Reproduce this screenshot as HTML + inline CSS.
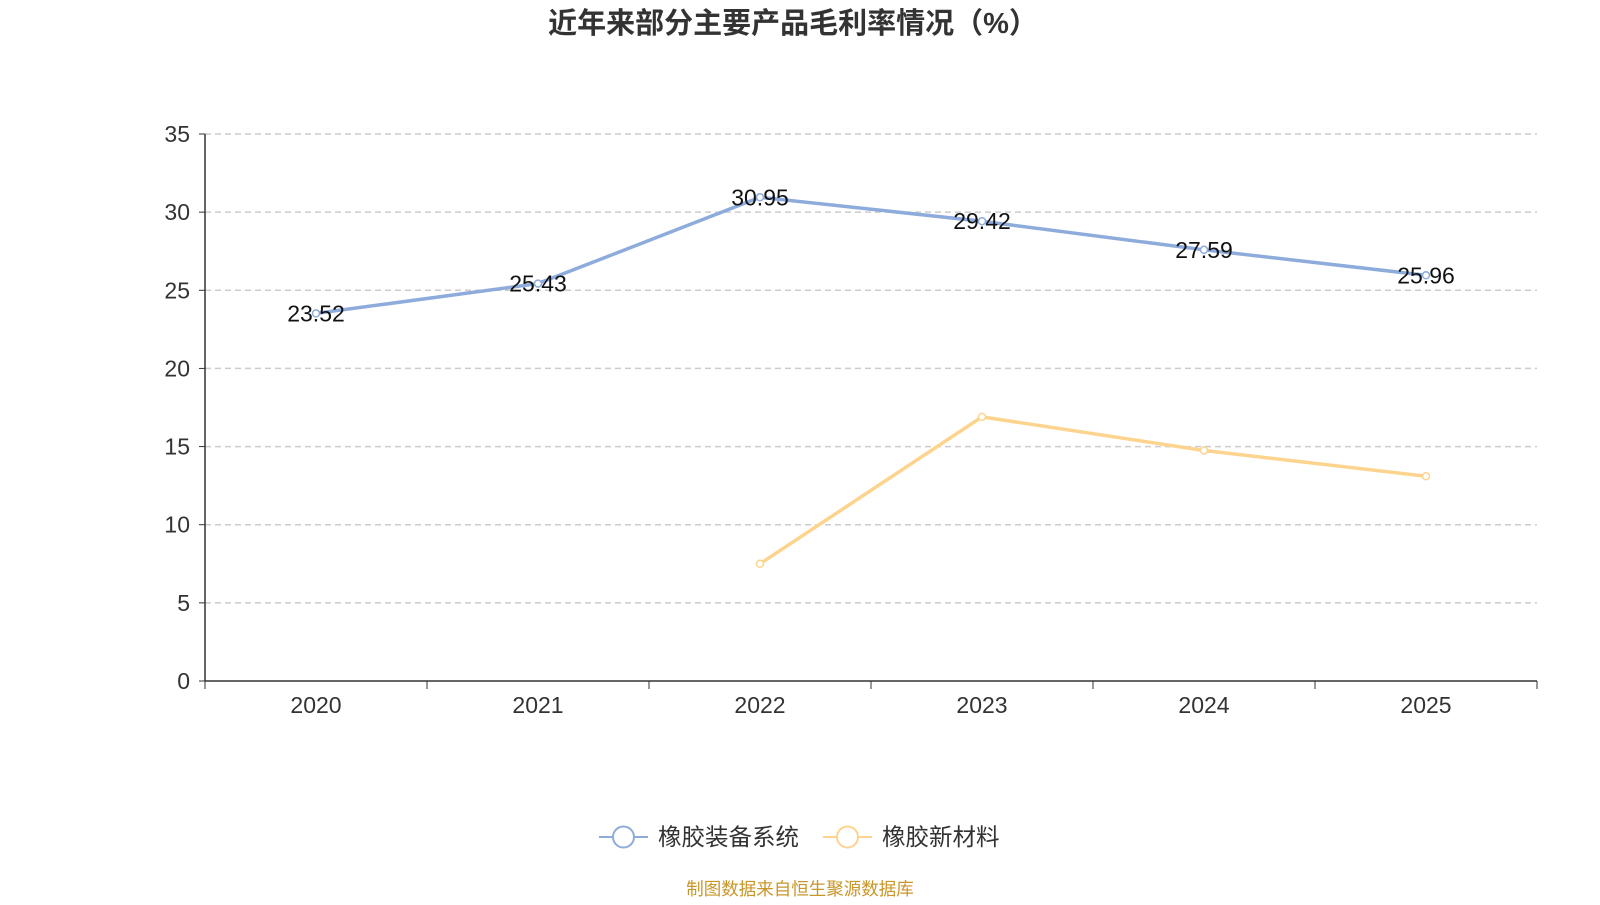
<!DOCTYPE html>
<html><head><meta charset="utf-8"><style>
body{margin:0;background:#fff;font-family:"Liberation Sans","Noto Sans CJK SC",sans-serif;}
</style></head><body>
<svg id="c" width="1600" height="900" xmlns="http://www.w3.org/2000/svg"></svg>
<script>
const categories=["2020","2021","2022","2023","2024","2025"];
const seriesA=[23.52,25.43,30.95,29.42,27.59,25.96];
const seriesB=[null,null,7.5,16.9,14.75,13.1];
const yTicks=[0,5,10,15,20,25,30,35];
const NS="http://www.w3.org/2000/svg";
const svg=document.getElementById('c');
const X0=205,X1=1537,Y0=681,Y1=134;
const bw=(X1-X0)/categories.length;
const x=i=>X0+bw*(i+0.5);
const y=v=>Y0-(v/35)*(Y0-Y1);
function el(t,a,txt){const e=document.createElementNS(NS,t);for(const k in a)e.setAttribute(k,a[k]);if(txt!==undefined)e.textContent=txt;svg.appendChild(e);return e;}
let t=el('text',{x:793,y:33,'text-anchor':'middle','font-size':29,'font-weight':'bold',fill:'#333'},'近年来部分主要产品毛利率情况（%）');


yTicks.forEach(v=>{
 if(v>0){const g=el('line',{x1:X0,x2:X1,y1:y(v),y2:y(v),stroke:'#ccc','stroke-dasharray':'6,4','stroke-width':1.5});
 
 }
 el('line',{x1:X0-6,x2:X0,y1:y(v),y2:y(v),stroke:'#333'});
 const l=el('text',{x:X0-15,y:y(v)+8,'text-anchor':'end','font-size':23,fill:'#333'},v);
 
 
});
el('line',{x1:X0,x2:X0,y1:Y1,y2:Y0,stroke:'#333','stroke-width':1.5});
el('line',{x1:X0,x2:X1,y1:Y0,y2:Y0,stroke:'#333','stroke-width':1.5});
for(let i=0;i<=categories.length;i++)el('line',{x1:X0+bw*i,x2:X0+bw*i,y1:Y0,y2:Y0+8,stroke:'#333'});
categories.forEach((c,i)=>{const l=el('text',{x:x(i),y:713,'text-anchor':'middle','font-size':23,fill:'#333'},c);
 
 });
function series(data,color,name,labels){
 const pts=[];data.forEach((v,i)=>{if(v!=null)pts.push([x(i),y(v),v]);});
 const p=el('polyline',{points:pts.map(p=>p[0]+','+p[1]).join(' '),fill:'none',stroke:color,'stroke-width':3.5});
 
 
 pts.forEach(q=>{const c=el('circle',{cx:q[0],cy:q[1],r:3.5,fill:'#fff',stroke:color,'stroke-width':1.5});
  
  
  if(labels){const l=el('text',{x:q[0],y:q[1]+8,'text-anchor':'middle','font-size':23,fill:'#111'},q[2].toFixed(2));
   
   }});
}
series(seriesA,'#8eacdb','rubber-equipment',true);
series(seriesB,'#fdd48e','rubber-material',false);
function legend(lx,color,text,name){
 el('line',{x1:lx,x2:lx+49,y1:837,y2:837,stroke:color,'stroke-width':2});
 el('circle',{cx:lx+24.5,cy:837,r:10.5,fill:'#fff',stroke:color,'stroke-width':2});
 const l=el('text',{x:lx+59,y:845,'font-size':23.5,fill:'#333'},text);
 
 
}
legend(599,'#8eacdb','橡胶装备系统','legend-rubber-equipment');
legend(823,'#fdd48e','橡胶新材料','legend-rubber-material');
const s=el('text',{x:800,y:895,'text-anchor':'middle','font-size':17.5,fill:'#c8962a'},'制图数据来自恒生聚源数据库');


</script>
</body></html>
